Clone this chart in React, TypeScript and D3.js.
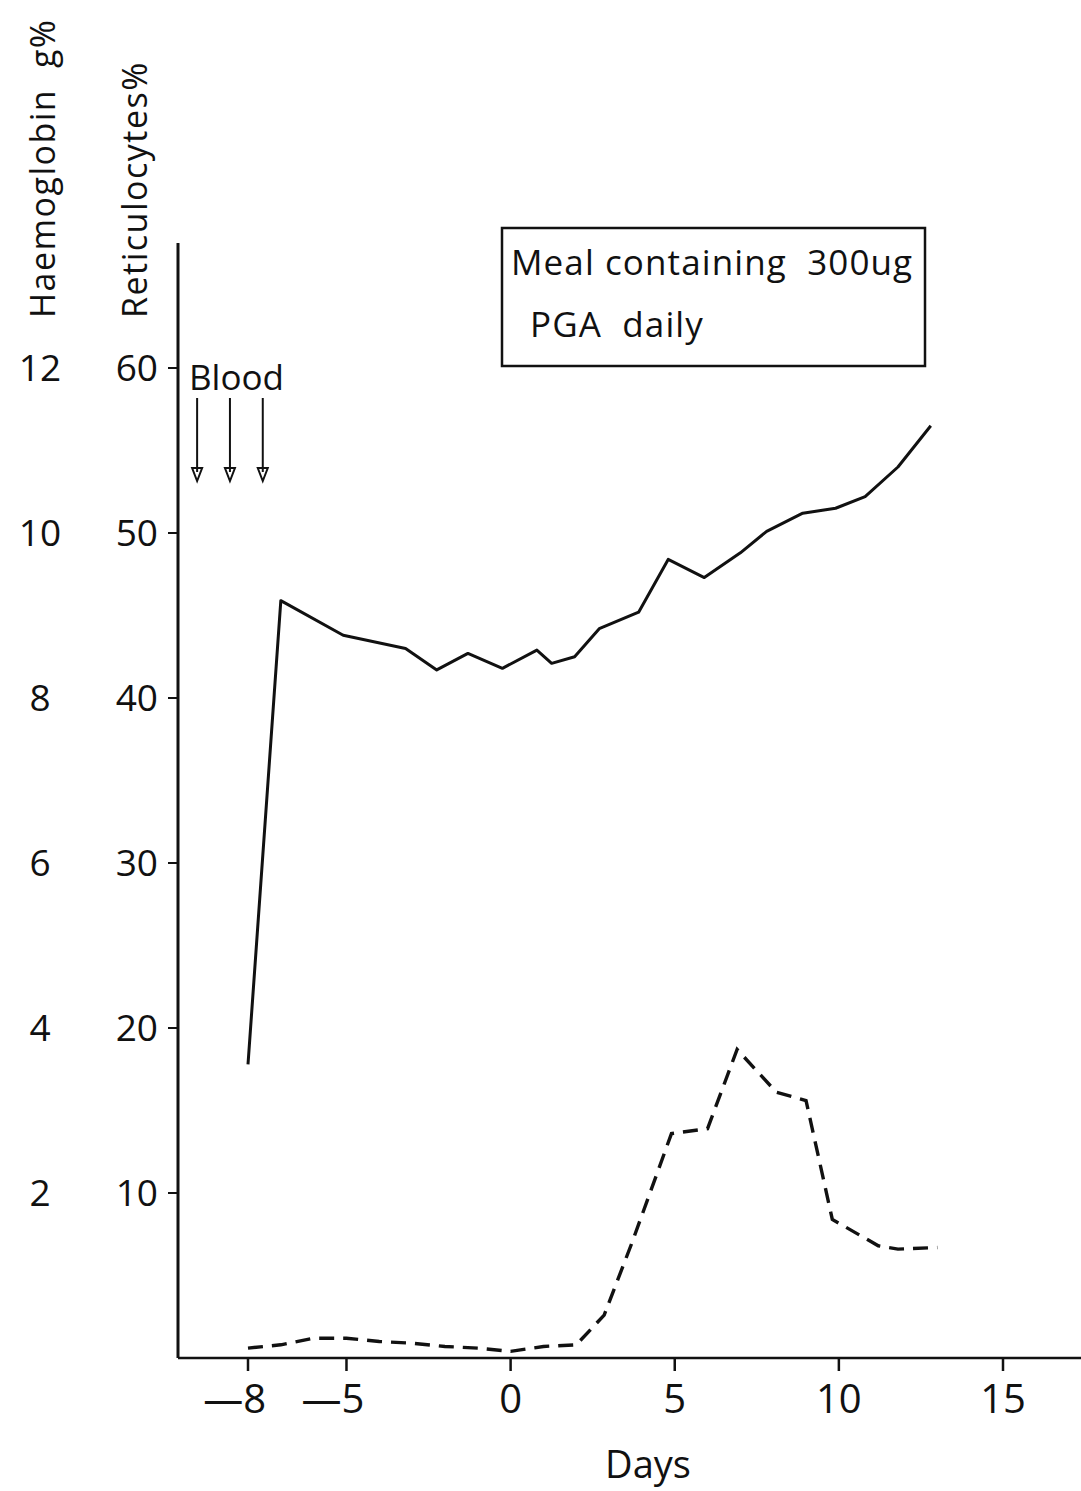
import { useEffect, useRef } from 'react';
import * as d3 from 'd3';

// haemoglobin (g%), solid line
const hbDays = [-8, -7, -5.1, -3.2, -2.25, -1.3, -0.25, 0.8, 1.25, 1.95, 2.7, 3.9, 4.8, 5.9, 7.0, 7.8, 8.9, 9.9, 10.8, 11.8, 12.8];
const hbValues = [3.56, 9.18, 8.76, 8.6, 8.34, 8.54, 8.36, 8.58, 8.42, 8.5, 8.84, 9.04, 9.68, 9.46, 9.76, 10.02, 10.24, 10.3, 10.44, 10.8, 11.3];

// reticulocytes %, dashed line
const reticDays = [-8, -7, -6, -5, -4, -3, -2, -1, 0, 1, 2, 2.85, 3.7, 4.9, 6.0, 6.9, 8.1, 9.0, 9.8, 11.2, 11.8, 13];
const reticValues = [0.6, 0.8, 1.2, 1.2, 1.0, 0.9, 0.7, 0.6, 0.4, 0.7, 0.8, 2.6, 7, 13.6, 13.9, 18.7, 16.1, 15.6, 8.4, 6.8, 6.6, 6.7];

const dayTicks = [-8, -5, 0, 5, 10, 15];
const reticTicks = [10, 20, 30, 40, 50, 60];
const hbTicks = [2, 4, 6, 8, 10, 12];
const bloodDays = [-9.55, -8.55, -7.55];
const legendLines = ['Meal containing  300ug', 'PGA  daily'];

const FONT = '"Open Sans", Lato, sans-serif';

export default function App() {
  const ref = useRef<SVGSVGElement | null>(null);

  useEffect(() => {
    const svg = d3.select(ref.current);
    svg.selectAll('*').remove();

    const x = d3.scaleLinear().domain([-8, 15]).range([248, 1003]);
    const yR = d3.scaleLinear().domain([0, 60]).range([1358, 368]);
    const yH = d3.scaleLinear().domain([0, 12]).range([1358, 368]);
    const axisX = 178;

    const g = svg.append('g').attr('font-family', FONT).attr('fill', '#111');

    // axes
    g.append('line').attr('x1', axisX).attr('x2', axisX).attr('y1', 243).attr('y2', yR(0))
      .attr('stroke', '#111').attr('stroke-width', 3);
    g.append('line').attr('x1', axisX).attr('x2', 1081).attr('y1', yR(0)).attr('y2', yR(0))
      .attr('stroke', '#111').attr('stroke-width', 2.5);

    g.selectAll('.xt').data(dayTicks).enter().append('line')
      .attr('x1', d => x(d)).attr('x2', d => x(d))
      .attr('y1', yR(0)).attr('y2', yR(0) + 13)
      .attr('stroke', '#111').attr('stroke-width', 2.5);
    g.selectAll('.xl').data(dayTicks).enter().append('text')
      .text(d => (d < 0 ? '—' + Math.abs(d) : String(d)))
      .attr('x', d => (d < 0 ? x(d) + 18 : x(d)))
      .attr('y', 1413)
      .attr('text-anchor', d => (d < 0 ? 'end' : 'middle'))
      .attr('font-size', 40);

    g.selectAll('.yt').data(reticTicks).enter().append('line')
      .attr('x1', axisX - 10).attr('x2', axisX)
      .attr('y1', d => yR(d)).attr('y2', d => yR(d))
      .attr('stroke', '#111').attr('stroke-width', 2);
    g.selectAll('.yl').data(reticTicks).enter().append('text')
      .text(d => d)
      .attr('x', 158).attr('y', d => yR(d) + 13)
      .attr('text-anchor', 'end')
      .attr('font-size', 37);
    g.selectAll('.hl').data(hbTicks).enter().append('text')
      .text(d => d)
      .attr('x', 40).attr('y', d => yH(d) + 13)
      .attr('text-anchor', 'middle')
      .attr('font-size', 37);

    // axis titles
    g.append('text').text('Haemoglobin  g%')
      .attr('transform', 'translate(55,318) rotate(-90)')
      .attr('font-size', 34).attr('letter-spacing', 1.5)
      .style('white-space', 'pre');
    g.append('text').text('Reticulocytes%')
      .attr('transform', 'translate(147,318) rotate(-90)')
      .attr('font-size', 34).attr('letter-spacing', 1.5);
    g.append('text').text('Days')
      .attr('x', 648).attr('y', 1478).attr('text-anchor', 'middle')
      .attr('font-size', 38);

    // blood arrows
    g.append('text').text('Blood').attr('x', 189).attr('y', 390).attr('font-size', 35);
    bloodDays.forEach(d => {
      const ax = x(d);
      g.append('line').attr('x1', ax).attr('x2', ax).attr('y1', 398).attr('y2', 472)
        .attr('stroke', '#111').attr('stroke-width', 2);
      g.append('path').attr('d', `M${ax - 5},468 L${ax + 5},468 L${ax},481 Z`)
        .attr('fill', 'none').attr('stroke', '#111').attr('stroke-width', 2);
    });

    // legend box
    g.append('rect').attr('x', 502).attr('y', 228).attr('width', 423).attr('height', 138)
      .attr('fill', 'none').attr('stroke', '#111').attr('stroke-width', 2.5);
    g.selectAll('.lg').data(legendLines).enter().append('text')
      .text(d => d)
      .attr('x', (_d, i) => (i === 0 ? 511 : 530))
      .attr('y', (_d, i) => (i === 0 ? 275 : 337))
      .attr('font-size', 35)
      .attr('letter-spacing', 1.1)
      .style('white-space', 'pre');

    // lines
    const hbLine = d3.line<number>().x((_d, i) => x(hbDays[i])).y(d => yH(d));
    g.append('path').attr('d', hbLine(hbValues))
      .attr('fill', 'none').attr('stroke', '#111').attr('stroke-width', 3)
      .attr('stroke-linejoin', 'round');

    const reLine = d3.line<number>().x((_d, i) => x(reticDays[i])).y(d => yR(d));
    g.append('path').attr('d', reLine(reticValues))
      .attr('fill', 'none').attr('stroke', '#111').attr('stroke-width', 3.4)
      .attr('stroke-dasharray', '15 9');
  }, []);

  return (
    <svg
      ref={ref}
      width={1081}
      height={1491}
      style={{ position: 'absolute', left: 0, top: 0, background: '#fff' }}
    />
  );
}
